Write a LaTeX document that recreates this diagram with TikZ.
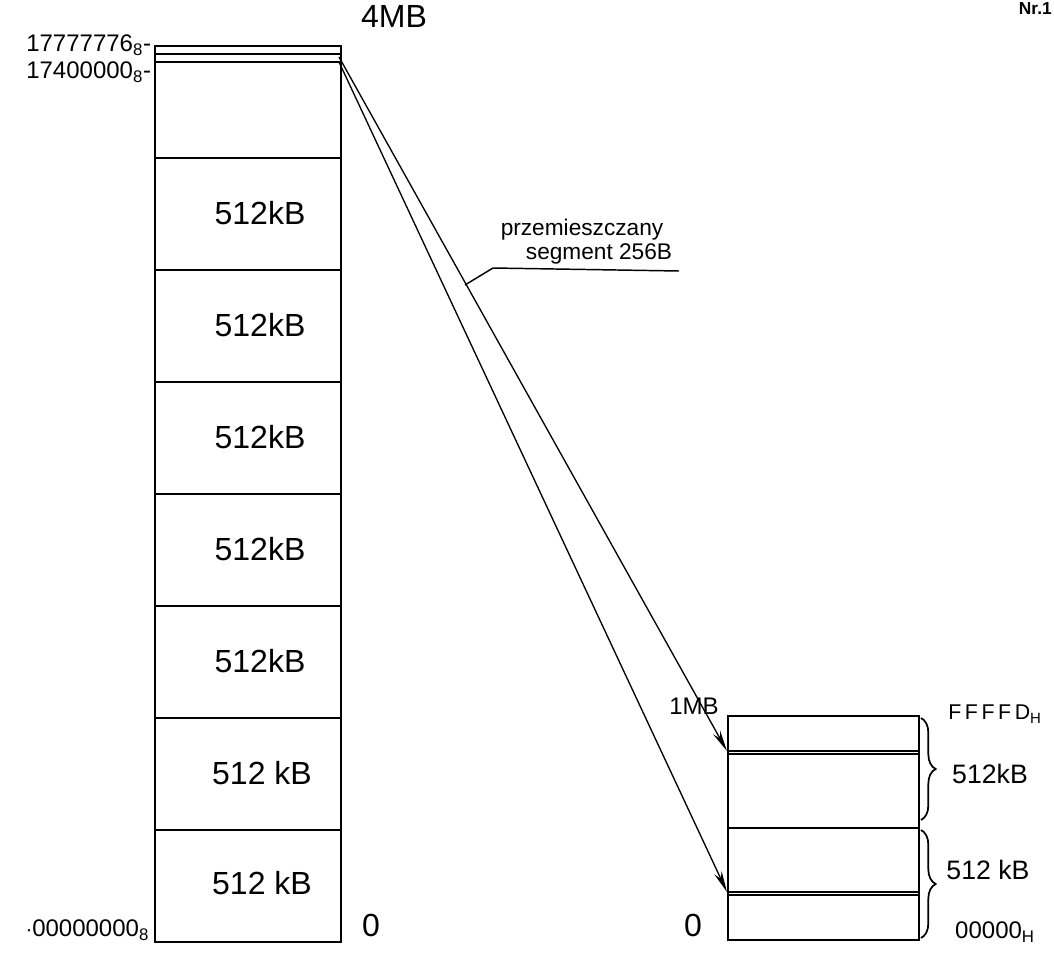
\documentclass[tikz,border=0pt]{standalone}
\usepackage{fontspec}
\setmainfont{Liberation Sans}
\usetikzlibrary{arrows.meta,decorations.pathreplacing}
\begin{document}
\begin{tikzpicture}[x=0.75pt,y=-0.75pt,line width=1.4pt,
  lblock/.style={draw,minimum width=139.5pt,minimum height=84pt,inner sep=0pt,anchor=north west},
  rblock/.style={draw,minimum width=143pt,minimum height=84pt,inner sep=0pt,anchor=north west},
  big/.style={font=\fontsize{24}{26}\selectfont,inner sep=0pt},
  mid/.style={font=\fontsize{18}{20}\selectfont,inner sep=0pt},
  small/.style={font=\fontsize{16}{18}\selectfont,inner sep=0pt},
  arr/.style={line width=1pt,-{Stealth[length=16pt,width=6pt]}},
  brc/.style={decorate,decoration={brace,amplitude=11pt},line width=1.3pt}]
\useasboundingbox (0,0) rectangle (1054,953);
% left column
\foreach \i in {0,...,7}{
  \node[lblock] (b\i) at (154,{45+112*\i}) {};
}
\draw (b0.north west) ++(0,9) coordinate (t1) -- (t1 -| b0.east);
\draw (b0.north west) ++(0,17) coordinate (t2) -- (t2 -| b0.east);
\foreach \i in {1,...,5}{
  \node[big] (lab\i) at (260,{45+112*\i+56}) {512kB};
}
\node[big] (lab6) at (262,{45+112*6+56}) {512 kB};
\node[big] (lab7) at (262,{45+112*7+54}) {512 kB};
\node[mid,anchor=east] (a1) at (152,45) {17777776\textsubscript{8}-};
\node[mid,anchor=east] (a2) at (152,72) {17400000\textsubscript{8}-};
\node[mid,anchor=east] (a3) at (150,930) {$\cdot$00000000\textsubscript{8}};
\node[big] (fourmb) at (394,16) {4MB};
\node[big] (zeroL) at (371,925) {0};
% right box
\node[rblock] (r1) at (727,715) {};
\node[rblock] (r2) at (727,827) {};
\draw (r1.north west) ++(0,36) coordinate (s1) -- (s1 -| r1.east);
\draw (r1.north west) ++(0,39) coordinate (s1b) -- (s1b -| r1.east);
\draw (r2.north west) ++(0,65) coordinate (s2) -- (s2 -| r2.east);
\draw (r2.north west) ++(0,68) coordinate (s2b) -- (s2b -| r2.east);
\node[mid] (onemb) at (694,706) {1MB};
\node[big] (zeroR) at (693,925) {0};
\node[small] (fffd) at (995,714) {F\,F\,F\,F\,D\textsubscript{H}};
\node[font=\fontsize{20}{22}\selectfont,inner sep=0pt] (rl1) at (990,774) {512kB};
\node[font=\fontsize{20}{22}\selectfont,inner sep=0pt] (rl2) at (988,870) {512 kB};
\node[mid] (zz) at (995,932) {00000\textsubscript{H}};
\draw[brc] (921,718) -- (921,820);
\draw[brc] (921,830) -- (921,938);
% arrows
\coordinate (src1) at (339,57);
\coordinate (src2) at (339,62);
\draw[arr] (src1) -- (s1);
\draw[arr] (src2) -- (s2);
% leader and label
\coordinate (ld0) at (465,285);
\coordinate (ld1) at (493,268);
\coordinate (ld2) at (679,271);
\draw[line width=1.1pt] (ld0) -- (ld1) -- (ld2);
\node[font=\fontsize{17}{19}\selectfont,inner sep=0pt] (pz) at (582,230) {przemieszczany};
\node[font=\fontsize{17}{19}\selectfont,inner sep=0pt] (sg) at (599,254) {segment 256B};
\node[font=\bfseries\fontsize{13}{15}\selectfont,anchor=north east,inner sep=1pt] (nr) at (1054,0) {Nr.1};
\end{tikzpicture}
\end{document}
